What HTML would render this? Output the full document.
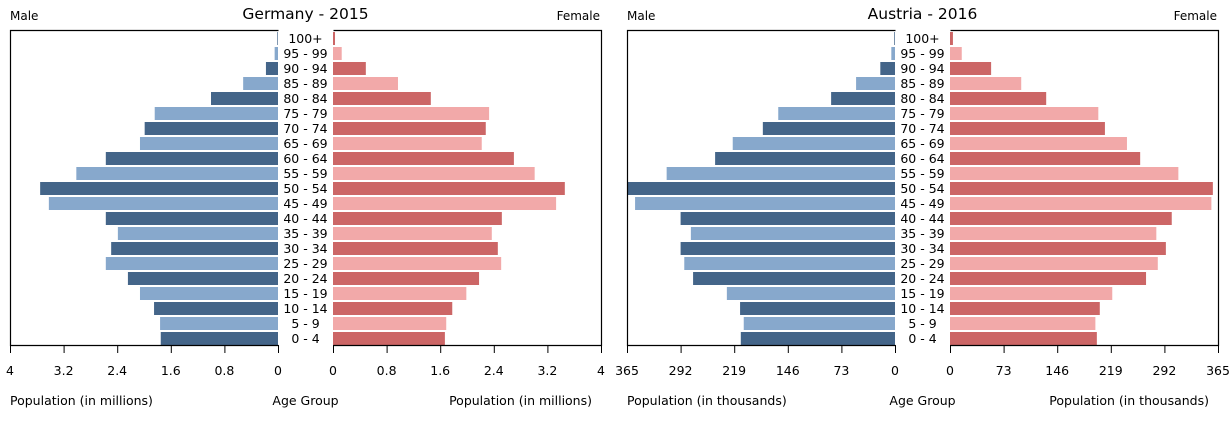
<!DOCTYPE html>
<html><head><meta charset="utf-8"><style>
body{margin:0;background:#fff;}
svg{display:block;font-family:"DejaVu Sans","Liberation Sans",sans-serif;}
</style></head><body>
<svg id="c" width="1230" height="425"></svg>
<script>
const ageGroups=["0 - 4","5 - 9","10 - 14","15 - 19","20 - 24","25 - 29","30 - 34","35 - 39","40 - 44","45 - 49","50 - 54","55 - 59","60 - 64","65 - 69","70 - 74","75 - 79","80 - 84","85 - 89","90 - 94","95 - 99","100+"];
const germanyMale=[1.75,1.76,1.85,2.06,2.24,2.57,2.49,2.39,2.57,3.42,3.55,3.01,2.57,2.06,1.99,1.84,1.0,0.52,0.18,0.05,0.01];
const germanyFemale=[1.67,1.69,1.78,1.99,2.18,2.51,2.46,2.37,2.52,3.33,3.46,3.01,2.70,2.22,2.28,2.33,1.46,0.97,0.49,0.13,0.03];
const austriaMale=[210,206,211,229,275,287,292,278,292,354,364,311,245,221,180,159,87,53,20,5,1];
const austriaFemale=[200,198,204,221,267,283,294,281,302,356,358,311,259,241,211,202,131,97,56,16,4];
const germanyTicks=["0","0.8","1.6","2.4","3.2","4"];
const austriaTicks=["0","73","146","219","292","365"];
const NS="http://www.w3.org/2000/svg";
const svg=document.getElementById('c');
function mk(tag,attrs,parent){const e=document.createElementNS(NS,tag);for(const k in attrs)e.setAttribute(k,attrs[k]);(parent||svg).appendChild(e);return e;}
function txt(x,y,s,size,anchor,parent){const t=mk('text',{x:x,y:y,'font-size':size,'text-anchor':anchor,fill:'#000'},parent);t.textContent=s;return t;}
function pyramid(cfg){
  const g=mk('g',{});
  
  
  const top=30,bottom=345,rowH=(bottom-top)/ageGroups.length;
  const xm=v=>cfg.mz-(cfg.mz-cfg.ml)*v/cfg.max;
  const xf=v=>cfg.fz+(cfg.fr-cfg.fz)*v/cfg.max;
  const n=ageGroups.length;
  for(let i=0;i<n;i++){
    const y=bottom-(i+1)*rowH+2;
    const dark=i%2===0;
    const mb=mk('rect',{x:xm(cfg.male[i]),y:y,width:cfg.mz-xm(cfg.male[i]),height:rowH-2,fill:dark?'#446589':'#87a8cc'},g);
    
    
    const fb=mk('rect',{x:cfg.fz,y:y,width:xf(cfg.female[i])-cfg.fz,height:rowH-2,fill:dark?'#cc6666':'#f2a9a9'},g);
    
    
    const lt=txt((cfg.mz+cfg.fz)/2,y+rowH-4,ageGroups[i],12.5,'middle',g);
    
    
  }
  mk('path',{d:`M${cfg.mz+0.5},${top+0.5} H${cfg.ml+0.5} V${bottom+0.5} H${cfg.mz+0.5}`,fill:'none',stroke:'#000','stroke-width':1.2},g);
  mk('path',{d:`M${cfg.fz+0.5},${top+0.5} H${cfg.fr+0.5} V${bottom+0.5} H${cfg.fz+0.5}`,fill:'none',stroke:'#000','stroke-width':1.2},g);
  for(let k=0;k<cfg.ticks.length;k++){
    const v=cfg.max*k/(cfg.ticks.length-1);
    [xm(v),xf(v)].forEach(x=>{
      mk('line',{x1:x+0.5,x2:x+0.5,y1:bottom,y2:bottom+8,stroke:'#000','stroke-width':1},g);
      const t=txt(x,375,cfg.ticks[k],12.5,'middle',g);
      
      
    });
  }
  const ti=txt((cfg.mz+cfg.fz)/2,19,cfg.title,15.5,'middle',g);
  
  
  const m=txt(cfg.ml,20,'Male',12,'start',g);
  
  
  const f=txt(cfg.fr-1,20,'Female',12,'end',g);
  
  
  const a1=txt(cfg.ml,405,cfg.unit,12.5,'start',g);
  
  
  const a2=txt((cfg.mz+cfg.fz)/2,405,'Age Group',12.5,'middle',g);
  
  
  const a3=txt(cfg.fr-9,405,cfg.unit,12.5,'end',g);
  
  
}
pyramid({name:'germany-pyramid',title:'Germany - 2015',ml:10,mz:278,fz:333,fr:601,max:4,ticks:germanyTicks,male:germanyMale,female:germanyFemale,unit:'Population (in millions)'});
pyramid({name:'austria-pyramid',title:'Austria - 2016',ml:627,mz:895,fz:950,fr:1218,max:365,ticks:austriaTicks,male:austriaMale,female:austriaFemale,unit:'Population (in thousands)'});
</script>
</body></html>
